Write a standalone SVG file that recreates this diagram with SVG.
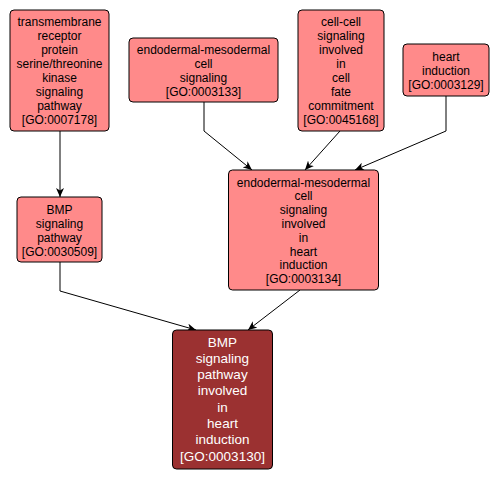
<svg xmlns="http://www.w3.org/2000/svg" width="501" height="480" viewBox="0 0 501 480">
<defs>
<style>
.n rect{fill:#ff8a8a;stroke:#000;stroke-width:1}
.d rect{fill:#9b3131;stroke:#000;stroke-width:1}
text{font-family:"Liberation Sans",Arial,sans-serif;font-size:12px;text-anchor:middle;fill:#000}
.d text{fill:#fff;font-size:13.5px}
.e path{fill:none;stroke:#000;stroke-width:1;marker-end:url(#a)}
</style>
<marker id="a" markerUnits="userSpaceOnUse" markerWidth="10" markerHeight="8" refX="9" refY="4" orient="auto">
<path d="M0,0 L9,4 L0,8 L2.5,4 z" fill="#000"/>
</marker>
</defs>
<rect width="501" height="480" fill="#fff"/>
<g class="e" id="edges">
<path d="M60,131 L60,197"/>
<path d="M204,102 L204,131 L252,170"/>
<path d="M340,131 L305,170"/>
<path d="M446,96 L446,131 L355,170"/>
<path d="M60,262 L60,291 L196,330"/>
<path d="M300,290 L248,330"/>
</g>
<g class="n" id="GO0007178">
<rect x="10" y="10" width="99" height="121" rx="4"/>
<text x="59.5" y="26">transmembrane</text>
<text x="59.5" y="40">receptor</text>
<text x="59.5" y="54">protein</text>
<text x="59.5" y="68">serine/threonine</text>
<text x="59.5" y="82">kinase</text>
<text x="59.5" y="96">signaling</text>
<text x="59.5" y="110">pathway</text>
<text x="59.5" y="124">[GO:0007178]</text>
</g>
<g class="n" id="GO0003133">
<rect x="129" y="38" width="149" height="64" rx="4"/>
<text x="203.5" y="54">endodermal-mesodermal</text>
<text x="203.5" y="68">cell</text>
<text x="203.5" y="82">signaling</text>
<text x="203.5" y="96">[GO:0003133]</text>
</g>
<g class="n" id="GO0045168">
<rect x="298" y="10" width="86" height="121" rx="4"/>
<text x="341" y="26">cell-cell</text>
<text x="341" y="40">signaling</text>
<text x="341" y="54">involved</text>
<text x="341" y="68">in</text>
<text x="341" y="82">cell</text>
<text x="341" y="96">fate</text>
<text x="341" y="110">commitment</text>
<text x="341" y="124">[GO:0045168]</text>
</g>
<g class="n" id="GO0003129">
<rect x="403" y="44" width="86" height="52" rx="4"/>
<text x="446" y="61">heart</text>
<text x="446" y="75">induction</text>
<text x="446" y="89">[GO:0003129]</text>
</g>
<g class="n" id="GO0030509">
<rect x="17" y="197" width="85" height="65" rx="4"/>
<text x="59.5" y="213.5">BMP</text>
<text x="59.5" y="227.5">signaling</text>
<text x="59.5" y="241.5">pathway</text>
<text x="59.5" y="255.5">[GO:0030509]</text>
</g>
<g class="n" id="GO0003134">
<rect x="228.5" y="170" width="150" height="120" rx="4"/>
<text x="303.5" y="186.5">endodermal-mesodermal</text>
<text x="303.5" y="200.3">cell</text>
<text x="303.5" y="214.1">signaling</text>
<text x="303.5" y="227.9">involved</text>
<text x="303.5" y="241.7">in</text>
<text x="303.5" y="255.5">heart</text>
<text x="303.5" y="269.3">induction</text>
<text x="303.5" y="283.1">[GO:0003134]</text>
</g>
<g class="d" id="GO0003130">
<rect x="172.5" y="330" width="100" height="139" rx="4"/>
<text x="222.5" y="346.5">BMP</text>
<text x="222.5" y="362.8">signaling</text>
<text x="222.5" y="379.1">pathway</text>
<text x="222.5" y="395.4">involved</text>
<text x="222.5" y="411.7">in</text>
<text x="222.5" y="428">heart</text>
<text x="222.5" y="444.3">induction</text>
<text x="222.5" y="460.6">[GO:0003130]</text>
</g>
</svg>
